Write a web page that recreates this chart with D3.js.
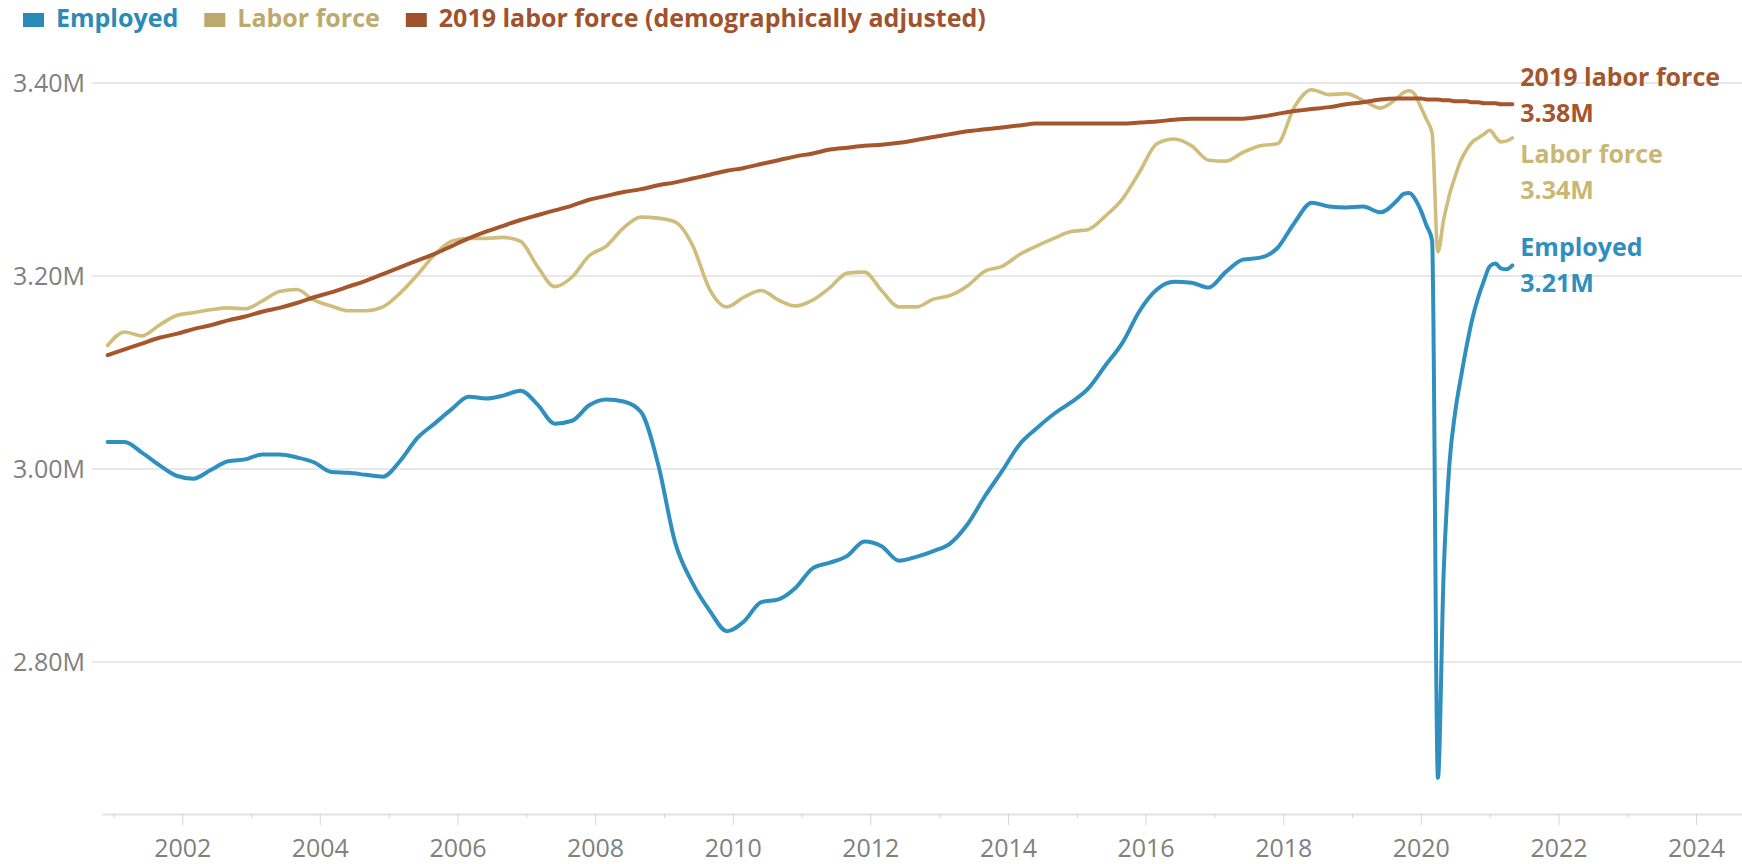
<!DOCTYPE html>
<html>
<head>
<meta charset="utf-8">
<script src="https://cdn.jsdelivr.net/npm/d3@7"></script>
<style>
  html, body { margin: 0; padding: 0; background: #fff; }
  svg { display: block; font-family: "Open Sans", sans-serif; }
</style>
</head>
<body>
<svg id="chart" width="1742" height="864"></svg>
<script>
// quarterly points, monthly from late 2019 on
const dates = [
  "2000-12",
  "2001-03", "2001-06", "2001-09", "2001-12",
  "2002-03", "2002-06", "2002-09", "2002-12",
  "2003-03", "2003-06", "2003-09", "2003-12",
  "2004-03", "2004-06", "2004-09", "2004-12",
  "2005-03", "2005-06", "2005-09", "2005-12",
  "2006-03", "2006-06", "2006-09", "2006-12",
  "2007-03", "2007-06", "2007-09", "2007-12",
  "2008-03", "2008-06", "2008-09", "2008-12",
  "2009-03", "2009-06", "2009-09", "2009-12",
  "2010-03", "2010-06", "2010-09", "2010-12",
  "2011-03", "2011-06", "2011-09", "2011-12",
  "2012-03", "2012-06", "2012-09", "2012-12",
  "2013-03", "2013-06", "2013-09", "2013-12",
  "2014-03", "2014-06", "2014-09", "2014-12",
  "2015-03", "2015-06", "2015-09", "2015-12",
  "2016-03", "2016-06", "2016-09", "2016-12",
  "2017-03", "2017-06", "2017-09", "2017-12",
  "2018-03", "2018-06", "2018-09", "2018-12",
  "2019-03", "2019-06", "2019-09", "2019-10", "2019-11", "2019-12",
  "2020-01", "2020-02", "2020-03", "2020-04", "2020-05", "2020-06",
  "2020-07", "2020-08", "2020-09", "2020-10", "2020-11", "2020-12",
  "2021-01", "2021-02", "2021-03", "2021-04", "2021-05"
]

// millions
const employed = [
  3.028,
  3.028, 3.017, 3.004, 2.993,
  2.990, 2.999, 3.008, 3.010,
  3.015, 3.015, 3.012, 3.007,
  2.997, 2.996, 2.994, 2.992,
  3.008, 3.032, 3.047, 3.062,
  3.075, 3.073, 3.076, 3.081,
  3.067, 3.047, 3.050, 3.066,
  3.072, 3.070, 3.059, 3.005,
  2.924, 2.882, 2.853, 2.832,
  2.842, 2.862, 2.865, 2.877,
  2.897, 2.903, 2.910, 2.925,
  2.920, 2.905, 2.909, 2.915,
  2.923, 2.943, 2.972, 2.998,
  3.025, 3.042, 3.057, 3.069,
  3.083, 3.107, 3.131, 3.164,
  3.186, 3.194, 3.193, 3.188,
  3.204, 3.217, 3.219, 3.229,
  3.255, 3.276, 3.272, 3.271,
  3.272, 3.266, 3.279, 3.285, 3.286, 3.280,
  3.268, 3.252, 3.237, 2.680, 2.890, 3.005,
  3.058, 3.095, 3.128, 3.156, 3.178, 3.195,
  3.210, 3.213, 3.208, 3.207, 3.211
]

const laborForce = [
  3.128,
  3.142, 3.138, 3.149, 3.159,
  3.162, 3.165, 3.167, 3.166,
  3.174, 3.184, 3.186, 3.175,
  3.169, 3.164, 3.164, 3.168,
  3.182, 3.201, 3.222, 3.236,
  3.239, 3.239, 3.240, 3.236,
  3.210, 3.189, 3.199, 3.221,
  3.231, 3.250, 3.261, 3.260,
  3.256, 3.232, 3.186, 3.168,
  3.178, 3.185, 3.175, 3.169,
  3.175, 3.188, 3.203, 3.204,
  3.185, 3.168, 3.168, 3.176,
  3.180, 3.190, 3.205, 3.210,
  3.222, 3.231, 3.239, 3.246,
  3.248, 3.262, 3.280, 3.308,
  3.337, 3.342, 3.335, 3.320,
  3.319, 3.328, 3.335, 3.337,
  3.375, 3.393, 3.388, 3.389,
  3.382, 3.374, 3.385, 3.390, 3.392, 3.388,
  3.375, 3.362, 3.348, 3.225, 3.258, 3.284,
  3.303, 3.320, 3.331, 3.339, 3.343, 3.347,
  3.351, 3.344, 3.339, 3.340, 3.343
]

const laborForce2019 = [
  3.118,
  3.124, 3.130, 3.136, 3.140,
  3.145, 3.149, 3.154, 3.158,
  3.163, 3.167, 3.172, 3.178,
  3.183, 3.189, 3.195, 3.202,
  3.209, 3.216, 3.223, 3.231,
  3.239, 3.246, 3.252, 3.258,
  3.263, 3.268, 3.273, 3.279,
  3.283, 3.287, 3.290, 3.294,
  3.297, 3.301, 3.305, 3.309,
  3.312, 3.316, 3.320, 3.324,
  3.327, 3.331, 3.333, 3.335,
  3.336, 3.338, 3.341, 3.344,
  3.347, 3.350, 3.352, 3.354,
  3.356, 3.358, 3.358, 3.358,
  3.358, 3.358, 3.358, 3.359,
  3.360, 3.362, 3.363, 3.363,
  3.363, 3.363, 3.365, 3.368,
  3.371, 3.373, 3.375, 3.378,
  3.380, 3.383, 3.384, 3.384, 3.384, 3.384,
  3.384, 3.383, 3.383, 3.383, 3.382, 3.382,
  3.381, 3.381, 3.381, 3.380, 3.380, 3.379,
  3.379, 3.379, 3.378, 3.378, 3.378
]

const yTicks = [2.8, 3.0, 3.2, 3.4]
const legendNames = ["Employed", "Labor force", "2019 labor force (demographically adjusted)"]
const endNames = ["Employed", "Labor force", "2019 labor force"]
const lineColors = ["#2f8fbe", "#cfbd7c", "#a5562c"]
const legendColors = ["#2a8ab8", "#bcaa6c", "#a0522d"]

const svg = d3.select('#chart')
const W = 1742, H = 864

const parse = d3.timeParse('%Y-%m')
const time = dates.map(parse)

const x = d3.scaleTime()
    .domain([new Date(2000, 10, 1), new Date(2024, 8, 1)])
    .range([102, W])
const y = d3.scaleLinear()
    .domain([2.6425, 3.40])
    .range([814, 83])

// gridlines + y labels
const grid = svg.append('g')
yTicks.forEach(v => {
  grid.append('line')
      .attr('x1', 92).attr('x2', W)
      .attr('y1', y(v)).attr('y2', y(v))
      .attr('stroke', '#e8e8e8').attr('stroke-width', 2)
  grid.append('text')
      .attr('x', 85).attr('y', y(v)).attr('dy', '0.35em')
      .attr('text-anchor', 'end')
      .attr('font-size', 25).attr('fill', '#808080')
      .text(d3.format('.2f')(v) + 'M')
})

// x axis
const xAxis = svg.append('g')
    .attr('transform', `translate(0,${y.range()[0]})`)
    .call(d3.axisBottom(x)
      .ticks(d3.timeYear.every(1))
      .tickSizeOuter(0)
      .tickFormat(d => d.getFullYear() % 2 === 0 ? d.getFullYear() : ''))
xAxis.select('.domain').attr('stroke', '#e2e2e2').attr('stroke-width', 2)
xAxis.selectAll('.tick line')
    .attr('stroke', '#d6d6d6')
    .attr('y2', d => d.getFullYear() % 2 === 0 ? 11 : 4)
xAxis.selectAll('.tick text')
    .attr('y', 43).attr('dy', 0)
    .attr('font-family', '"Open Sans", sans-serif')
    .attr('font-size', 25).attr('fill', '#808080')

// lines
const series = [employed, laborForce, laborForce2019].map((vals, i) => ({
  name: endNames[i],
  color: lineColors[i],
  points: vals.map((v, j) => [time[j], v])
}))

const line = d3.line()
    .x(d => x(d[0]))
    .y(d => y(d[1]))
    .curve(d3.curveMonotoneX)

svg.append('g').selectAll('path')
  .data(series)
  .join('path')
    .attr('d', d => line(d.points))
    .attr('fill', 'none')
    .attr('stroke', d => d.color)
    .attr('stroke-width', (d, i) => i === 1 ? 3.6 : 4)
    .attr('stroke-linejoin', 'round')
    .attr('stroke-linecap', 'round')

// end labels, spread so they don't collide
const labels = series.map(s => {
  const last = s.points[s.points.length - 1]
  return { s, lx: x(last[0]) + 8, y: y(last[1]) - 9, val: last[1] }
}).sort((a, b) => a.y - b.y)

const gap = 77, minY = 86
for (let k = 0; k < 20; k++) {
  for (let i = 1; i < labels.length; i++) {
    const d = labels[i].y - labels[i - 1].y
    if (d < gap) {
      const m = (gap - d) / 2
      labels[i - 1].y -= m
      labels[i].y += m
    }
  }
  if (labels[0].y < minY) labels[0].y = minY
  for (let i = 1; i < labels.length; i++) {
    labels[i].y = Math.max(labels[i].y, labels[i - 1].y + gap)
  }
}

const endG = svg.append('g')
labels.forEach(l => {
  const t = endG.append('text')
      .attr('font-size', 25).attr('font-weight', 700)
      .attr('fill', l.s.color === lineColors[1] ? '#c9b775' : l.s.color)
  t.append('tspan').attr('x', l.lx).attr('y', l.y).text(l.s.name)
  t.append('tspan').attr('x', l.lx).attr('y', l.y + 36).text(d3.format('.2f')(l.val) + 'M')
})

// legend
const legend = svg.append('g')
let lx = 23
legendNames.forEach((name, i) => {
  legend.append('rect')
      .attr('x', lx).attr('y', 13)
      .attr('width', 21).attr('height', 14)
      .attr('fill', legendColors[i])
  const t = legend.append('text')
      .attr('x', lx + 33).attr('y', 27)
      .attr('font-size', 25).attr('font-weight', 700)
      .attr('fill', legendColors[i])
      .text(name)
  lx += 33 + t.node().getComputedTextLength() + 26
})
</script>
</body>
</html>
